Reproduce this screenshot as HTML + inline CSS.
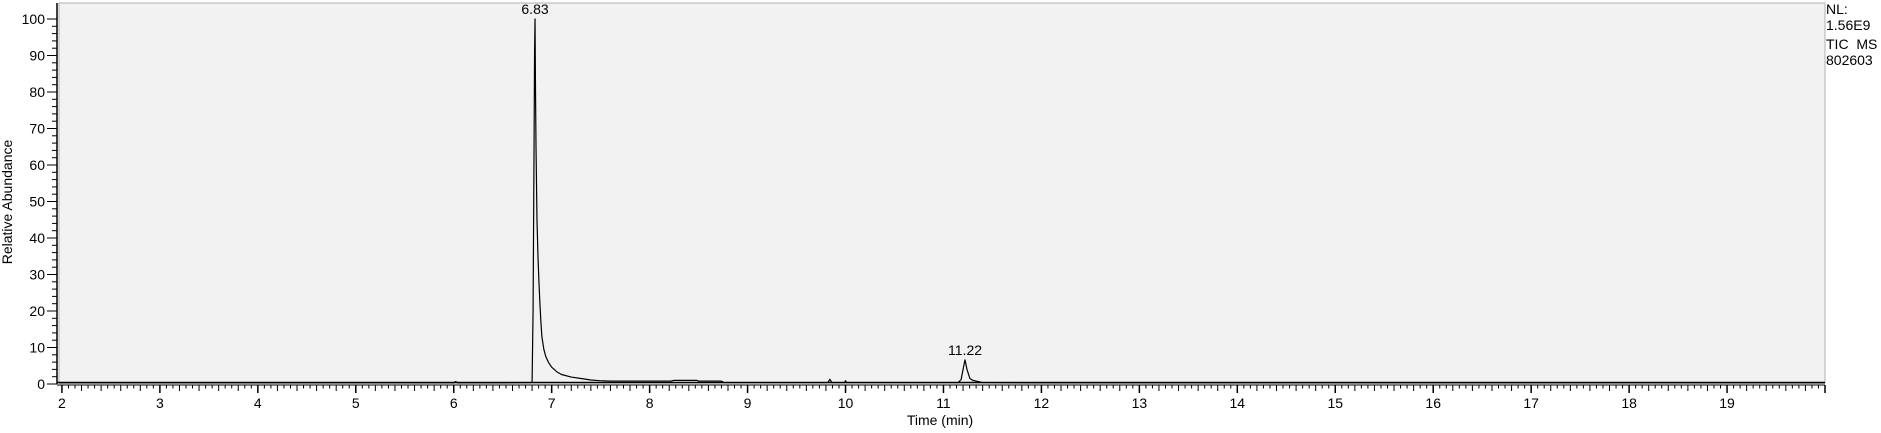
<!DOCTYPE html>
<html><head><meta charset="utf-8"><style>
html,body{margin:0;padding:0;background:#fff;}
svg{display:block;font-family:"Liberation Sans",Arial,sans-serif;}
</style></head><body>
<svg id="chart" width="1881" height="433" viewBox="0 0 1881 433">
<rect x="59" y="3" width="1766" height="380" fill="#f2f2f2" stroke="#b0b0b0" stroke-width="1"/>
<g id="axes"></g>
<path id="trace" fill="none" stroke="#000" stroke-width="1.2" stroke-linejoin="round"/>
<g id="labels"></g>
<text x="12" y="202" font-size="14" text-anchor="middle" transform="rotate(-90 12 202)" fill="#000">Relative Abundance</text>
<text x="940" y="425" font-size="14" text-anchor="middle" fill="#000">Time (min)</text>
<g font-size="14" fill="#000">
<text x="1826" y="14">NL:</text>
<text x="1826" y="30">1.56E9</text>
<text x="1826" y="49" style="white-space:pre">TIC  MS</text>
<text x="1826" y="65">802603</text>
</g>
</svg>
<script>
const times = [1.97,2.5,3,4,5,6.0,6.02,6.04,6.5,6.80,6.81,6.82,6.825,6.83,6.835,6.84,6.85,6.86,6.87,6.88,6.89,6.90,6.92,6.94,6.97,7.0,7.05,7.1,7.2,7.3,7.4,7.49,7.6,8.0,8.22,8.25,8.48,8.5,8.73,8.76,9.0,9.5,9.82,9.84,9.86,9.99,10.0,10.01,10.5,11.0,11.15,11.18,11.2,11.22,11.24,11.27,11.3,11.35,11.4,12,14,16,18,20.0];
const values = [0.3,0.3,0.3,0.3,0.3,0.3,0.7,0.3,0.3,0.4,20,65,90,100,80,65,45,35,28,22,17,13,9.5,7.5,5.8,4.6,3.4,2.6,1.9,1.5,1.1,0.9,0.8,0.8,0.8,1.0,1.0,0.8,0.8,0.4,0.4,0.4,0.4,1.3,0.4,0.4,0.9,0.4,0.4,0.4,0.4,1.2,4,6.6,4,1.5,1.0,0.7,0.4,0.3,0.3,0.3,0.3,0.3];
const peakLabels = ["6.83","11.22"];
const peakTimes = [6.83,11.22];
const peakValues = [100,6.6];
const yTickLabels = ["0","10","20","30","40","50","60","70","80","90","100"];
const xTickLabels = ["2","3","4","5","6","7","8","9","10","11","12","13","14","15","16","17","18","19"];

const X0=1.97,X1=20.0,PX0=59,PX1=1825;
const Y0=0,Y1=100,PY0=384,PY1=19;
function xs(t){return PX0+(t-X0)/(X1-X0)*(PX1-PX0);}
function ys(v){return PY0+(v-Y0)/(Y1-Y0)*(PY1-PY0);}
const NS="http://www.w3.org/2000/svg";
const axes=document.getElementById('axes');
function mk(tag,attrs,parent){const e=document.createElementNS(NS,tag);for(const k in attrs)e.setAttribute(k,attrs[k]);parent.appendChild(e);return e;}

let yl=mk('line',{x1:57,y1:3,x2:57,y2:384,stroke:'#000','stroke-width':1.5},axes);


let xl=mk('line',{x1:57,y1:382.5,x2:1825,y2:382.5,stroke:'#000','stroke-width':1.5},axes);


let xl2=mk('line',{x1:57,y1:385,x2:1825,y2:385,stroke:'#000','stroke-width':1},axes);



for(let v=0;v<=100;v+=2){
  const y=ys(v);const major=v%10===0;
  const t=mk('line',{x1:major?47:52,y1:y,x2:57,y2:y,stroke:'#000','stroke-width':1},axes);
  
  
}
yTickLabels.forEach((s,i)=>{
  const tx=mk('text',{x:45,y:ys(i*10)+5,'font-size':14,'text-anchor':'end',fill:'#000'},axes);
  tx.textContent=s;
  
  
});
for(let k=Math.ceil(X0*15);k<=Math.floor(X1*15);k++){
  const t=k/15;const x=xs(t);
  const isMaj=k%15===0, isMid=k%3===0;
  const len=isMaj?8:(isMid?6:3.5);
  const l=mk('line',{x1:x,y1:385,x2:x,y2:385+len,stroke:'#000','stroke-width':isMaj?1.5:1},axes);
  
  
}
xTickLabels.forEach(s=>{
  const tx=mk('text',{x:xs(parseFloat(s)),y:408,'font-size':14,'text-anchor':'middle',fill:'#000'},axes);
  tx.textContent=s;
  
  
});
let d='';
times.forEach((t,i)=>{d+=(i?'L':'M')+xs(t).toFixed(2)+' '+ys(values[i]).toFixed(2);});
document.getElementById('trace').setAttribute('d',d);
const lab=document.getElementById('labels');
peakLabels.forEach((s,i)=>{
  const tx=mk('text',{x:xs(peakTimes[i]),y:ys(peakValues[i])-5,'font-size':14,'text-anchor':'middle',fill:'#000'},lab);
  tx.textContent=s;
  
  
});
</script>
</body></html>
